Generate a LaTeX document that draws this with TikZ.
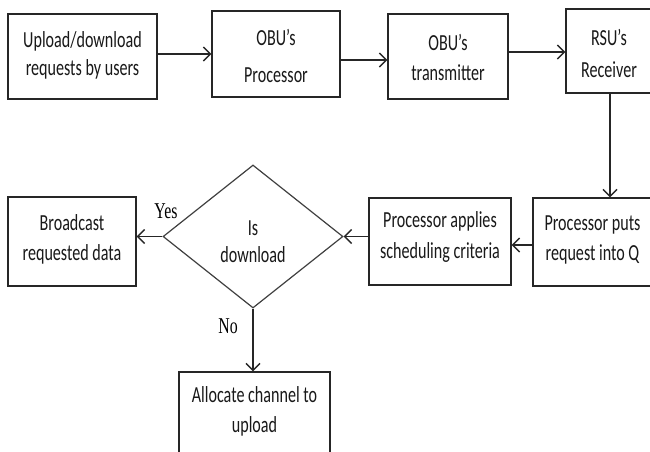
\documentclass[tikz,border=0pt]{standalone}
\usepackage{fontspec}
\newfontfamily\boxfont[FakeStretch=0.7]{Carlito}
\newfontfamily\lblfont[FakeStretch=0.7]{Liberation Serif}
\usetikzlibrary{arrows.meta,shapes.geometric,calc}
\tikzset{
 boxnode/.style={draw=black!85, line width=1.4pt, rectangle, inner sep=0pt},
 decision/.style={draw=black!75, line width=1.2pt, diamond, inner sep=0pt},
 txt/.style={font=\boxfont\fontsize{23}{28}\selectfont, align=center, inner sep=0pt, anchor=base, text=black!90},
 lbl/.style={font=\lblfont\fontsize{22.6}{26}\selectfont, inner sep=0pt, anchor=base},
 arr/.style={draw=black!85, line width=1.4pt, -{Straight Barb[length=7pt,width=14pt]}},
}
\begin{document}
\begin{tikzpicture}[x=1pt,y=-1pt]
\path[use as bounding box, clip] (0,0) rectangle (650,451);
\fill[white] (0,0) rectangle (650,451);
% boxes
\node[boxnode, minimum width=149pt, minimum height=85pt] (b1) at (82.5,56.5) {};
\node[boxnode, minimum width=128pt, minimum height=86pt] (b2) at (276,54) {};
\node[boxnode, minimum width=120pt, minimum height=85pt] (b3) at (448,56.5) {};
\node[boxnode, minimum width=86pt, minimum height=84pt] (b4) at (609,51) {};
\node[boxnode, minimum width=119pt, minimum height=88pt] (b5) at (592.5,242) {};
\node[boxnode, minimum width=142pt, minimum height=87pt] (b6) at (440,241.5) {};
\node[boxnode, minimum width=128pt, minimum height=89pt] (b7) at (72,241.5) {};
\node[boxnode, minimum width=151pt, minimum height=90pt] (b8) at (254.5,417) {};
\node[decision, minimum width=180pt, minimum height=143pt] (d) at (253,236.5) {};
% texts (anchor base = baseline of the last line)
\node[txt] (t1) at (b1.center |- 0,75) {Upload/download\\requests by users};
\node[txt] (t2) at (b2.center |- 0,82) {OBU’s\\[9pt]Processor};
\node[txt] (t3) at (b3.center |- 0,80) {OBU’s\\[2pt]transmitter};
\node[txt] (t4) at (b4.center |- 0,77) {RSU’s\\[4pt]Receiver};
\node[txt] (t5) at (b5.center |- 0,260) {Processor puts\\[2pt]request into Q};
\node[txt] (t6) at (b6.center |- 0,258) {Processor applies\\[3pt]scheduling criteria};
\node[txt] (t7) at (b7.center |- 0,260) {Broadcast\\[2pt]requested data};
\node[txt] (td) at (d.center |- 0,262) {Is\\[-1pt]download};
\node[txt] (t8) at (b8.center |- 0,432) {Allocate channel to\\[2pt]upload};
\node[lbl] (yes) at (166,218) {Yes};
\node[lbl] (no) at (228,333) {No};
% arrows
\draw[arr] ([yshift=2.5pt]b1.east) -- ([yshift=2.5pt]b1.east -| b2.west);
\draw[arr] ([yshift=-6pt]b2.east) -- ([yshift=-6pt]b2.east -| b3.west);
\draw[arr] ([yshift=4.5pt]b3.east) -- ([yshift=4.5pt]b3.east -| b4.west);
\draw[arr] ([xshift=1pt]b4.south) -- ([xshift=1pt]b4.south |- b5.north);
\draw[arr] ([yshift=-3pt]b5.west) -- ([yshift=-3pt]b5.west -| b6.east);
\draw[arr] (b6.west |- d.east) -- (d.east);
\draw[arr] (d.west) -- (d.west -| b7.east);
\draw[arr] (d.south) -- (d.south |- b8.north);
\end{tikzpicture}
\end{document}
